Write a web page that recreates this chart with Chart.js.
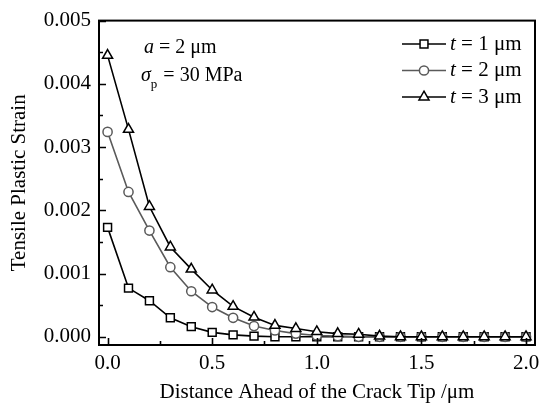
<!DOCTYPE html>
<html>
<head>
<meta charset="utf-8">
<script src="https://cdn.jsdelivr.net/npm/chart.js@4.4.1/dist/chart.umd.min.js"></script>
<style>
  html, body { margin: 0; padding: 0; background: #fff; }
  #wrap { width: 546px; height: 408px; }
</style>
</head>
<body>
<div id="wrap"><canvas id="chart" width="546" height="408"></canvas></div>
<script>
// distance ahead of crack tip (um)
const distance = [0.0, 0.1, 0.2, 0.3, 0.4, 0.5, 0.6, 0.7, 0.8, 0.9, 1.0,
                  1.1, 1.2, 1.3, 1.4, 1.5, 1.6, 1.7, 1.8, 1.9, 2.0];

// tensile plastic strain for each film thickness
const strainT1 = [0.00173, 0.00077, 0.00057, 0.00030, 0.00016, 0.00007, 0.00003, 0.00001, 0, 0, 0,
                  0, 0, 0, 0, 0, 0, 0, 0, 0, 0];
const strainT2 = [0.00324, 0.00229, 0.00168, 0.00110, 0.00072, 0.00047, 0.00030, 0.00017, 0.00010, 0.00005, 0.00002,
                  0.00001, 0, 0, 0, 0, 0, 0, 0, 0, 0];
const strainT3 = [0.00445, 0.00328, 0.00206, 0.00142, 0.00107, 0.00074, 0.00048, 0.00031, 0.00018, 0.00013, 0.00008,
                  0.00005, 0.00004, 0.00001, 0, 0, 0, 0, 0, 0, 0];

const seriesLabels = ['1', '2', '3'];
const xTicks = [0.0, 0.5, 1.0, 1.5, 2.0];
const yTicks = [0.000, 0.001, 0.002, 0.003, 0.004, 0.005];

const FONT = '"Liberation Serif", "Times New Roman", serif';
const GRAY = '#5a5a5a';

function toPoints(ys) {
    return distance.map((x, i) => ({ x: x, y: ys[i] }));
}

const seriesStyle = [
    { color: '#000', shape: 'rect', radius: 5.6 },
    { color: GRAY, shape: 'circle', radius: 4.6 },
    { color: '#000', shape: 'triangle', radius: 5.8 }
];

function drawMarker(ctx, shape, x, y, r) {
    ctx.beginPath();
    if (shape === 'rect') {
        const s = r * Math.SQRT1_2;
        ctx.rect(x - s, y - s, 2 * s, 2 * s);
    } else if (shape === 'circle') {
        ctx.arc(x, y, r, 0, Math.PI * 2);
    } else {
        ctx.moveTo(x, y - r);
        ctx.lineTo(x + r * Math.sin(Math.PI * 2 / 3), y - r * Math.cos(Math.PI * 2 / 3));
        ctx.lineTo(x + r * Math.sin(Math.PI * 4 / 3), y - r * Math.cos(Math.PI * 4 / 3));
        ctx.closePath();
    }
    ctx.fill();
    ctx.stroke();
}

// frame + inward ticks
const framePlugin = {
    id: 'frame',
    afterDatasetsDraw(chart) {
        const { ctx, chartArea: a, scales } = chart;
        const xs = scales.x, ys = scales.y;
        ctx.save();
        ctx.strokeStyle = '#000';
        ctx.lineWidth = 2;
        ctx.strokeRect(a.left, a.top, a.right - a.left, a.bottom - a.top);
        ctx.lineWidth = 1.6;
        ctx.beginPath();
        for (let v = 0; v <= 2.0001; v += 0.25) {
            const px = Math.round(xs.getPixelForValue(v)) + 0.5;
            const len = (Math.abs(v * 2 - Math.round(v * 2)) < 1e-6) ? 7 : 4;
            ctx.moveTo(px, a.bottom);
            ctx.lineTo(px, a.bottom - len);
        }
        for (let v = 0; v <= 0.0050001; v += 0.0005) {
            const py = Math.round(ys.getPixelForValue(v)) + 0.5;
            const major = Math.abs(v * 1000 - Math.round(v * 1000)) < 1e-6;
            ctx.moveTo(a.left, py);
            ctx.lineTo(a.left + (major ? 7 : 4), py);
        }
        ctx.stroke();
        ctx.restore();
    }
};

// annotation text and legend
const notesPlugin = {
    id: 'notes',
    afterDraw(chart) {
        const { ctx, chartArea: a } = chart;
        ctx.save();
        ctx.fillStyle = '#000';
        ctx.textBaseline = 'middle';
        ctx.textAlign = 'left';

        // a = 2 um
        let x = a.left + 45, y = a.top + 27;
        ctx.font = 'italic 20px ' + FONT;
        ctx.fillText('a', x, y);
        x += ctx.measureText('a').width;
        ctx.font = '20px ' + FONT;
        ctx.fillText(' = 2 \u03BCm', x, y);

        // sigma_p = 30 MPa
        x = a.left + 42; y = a.top + 55;
        ctx.font = 'italic 20px ' + FONT;
        ctx.fillText('\u03C3', x, y);
        x += ctx.measureText('\u03C3').width;
        ctx.font = '13px ' + FONT;
        ctx.fillText('p', x, y + 9);
        x += ctx.measureText('p').width + 1;
        ctx.font = '20px ' + FONT;
        ctx.fillText(' = 30 MPa', x, y);

        // legend
        const lx0 = 402, lx1 = 446, tx = 450;
        const rows = [44, 70.5, 97];
        seriesLabels.forEach((lab, i) => {
            const st = seriesStyle[i];
            const ry = rows[i];
            ctx.strokeStyle = st.color;
            ctx.lineWidth = 1.6;
            ctx.beginPath();
            ctx.moveTo(lx0, ry);
            ctx.lineTo(lx1, ry);
            ctx.stroke();
            ctx.fillStyle = '#fff';
            ctx.lineWidth = 1.5;
            drawMarker(ctx, st.shape, (lx0 + lx1) / 2, ry, st.radius);
            ctx.fillStyle = '#000';
            let t = tx;
            ctx.font = 'italic 21px ' + FONT;
            ctx.fillText('t', t, ry);
            t += ctx.measureText('t').width;
            ctx.font = '21px ' + FONT;
            ctx.fillText(' = ' + lab + ' \u03BCm', t, ry);
        });
        ctx.restore();
    }
};

const datasets = [strainT1, strainT2, strainT3].map((ys, i) => ({
    label: 't = ' + seriesLabels[i] + ' um',
    data: toPoints(ys),
    borderColor: seriesStyle[i].color,
    borderWidth: 1.6,
    pointStyle: seriesStyle[i].shape,
    pointRadius: seriesStyle[i].radius,
    pointBorderWidth: 1.5,
    pointBackgroundColor: '#fff',
    pointBorderColor: seriesStyle[i].color,
    tension: 0,
    order: 2 - i
}));

new Chart(document.getElementById('chart'), {
    type: 'line',
    data: { datasets: datasets },
    options: {
        responsive: false,
        animation: false,
        devicePixelRatio: 1,
        layout: { padding: { top: 17, right: 11, left: 0, bottom: 0 } },
        plugins: {
            legend: { display: false },
            tooltip: { enabled: false }
        },
        scales: {
            x: {
                type: 'linear',
                min: -0.041,
                max: 2.043,
                afterFit(scale) { scale.height = 63; },
                afterBuildTicks(scale) { scale.ticks = xTicks.map(v => ({ value: v })); },
                grid: { display: false, drawTicks: false },
                border: { display: false },
                ticks: {
                    color: '#000',
                    padding: 6,
                    maxRotation: 0,
                    font: { family: FONT, size: 21 },
                    callback: v => v.toFixed(1)
                },
                title: {
                    display: true,
                    text: 'Distance Ahead of the Crack Tip /\u03BCm',
                    color: '#000',
                    font: { family: FONT, size: 21 },
                    padding: { top: 0, bottom: 3 }
                }
            },
            y: {
                type: 'linear',
                min: -0.00013,
                max: 0.005,
                afterFit(scale) { scale.width = 99; },
                afterBuildTicks(scale) { scale.ticks = yTicks.map(v => ({ value: v })); },
                grid: { display: false, drawTicks: false },
                border: { display: false },
                ticks: {
                    color: '#000',
                    padding: 8,
                    font: { family: FONT, size: 21 },
                    callback: v => v.toFixed(3)
                },
                title: {
                    display: true,
                    text: 'Tensile Plastic Strain',
                    color: '#000',
                    font: { family: FONT, size: 21 },
                    padding: { top: 7, bottom: 0 }
                }
            }
        }
    },
    plugins: [framePlugin, notesPlugin]
});
</script>
</body>
</html>
